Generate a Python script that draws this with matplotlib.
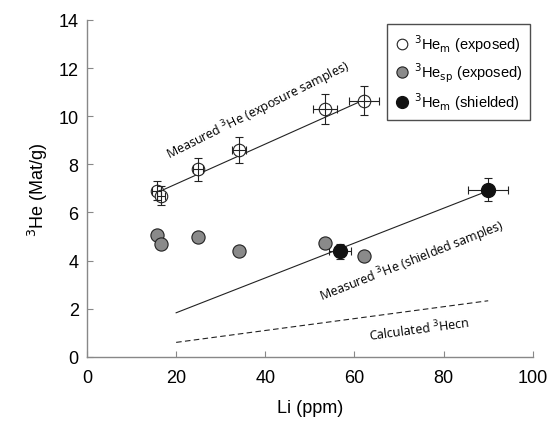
import matplotlib.pyplot as plt

plt.rcParams['font.family'] = ['Liberation Sans', 'DejaVu Sans']

# measured 3He, exposed samples
li_exp = [15.6, 16.7, 24.9, 34.1, 53.3, 62.1]
he_exp = [6.9, 6.7, 7.8, 8.6, 10.3, 10.65]
he_exp_err = [0.4, 0.4, 0.48, 0.53, 0.62, 0.62]
li_exp_err = [1.0, 0.9, 1.2, 1.6, 2.7, 3.3]

# spallation 3He, exposed samples
li_sp = [15.6, 16.7, 24.9, 34.1, 53.3, 62.1]
he_sp = [5.05, 4.7, 5.0, 4.38, 4.75, 4.2]

# measured 3He, shielded samples
li_sh = [56.8, 89.9]
he_sh = [4.38, 6.95]
li_sh_err = [2.5, 4.5]
he_sh_err = [0.3, 0.48]

# fitted lines
fit_exp_x = [16.0, 63.0]
fit_exp_y = [6.85, 10.75]
fit_sh_x = [20.0, 90.0]
fit_sh_y = [1.83, 6.9]
calc_x = [20.0, 90.0]
calc_y = [0.6, 2.33]

fig = plt.figure(figsize=(5.47, 4.27), dpi=100)
ax = fig.add_axes([0.159, 0.162, 0.815, 0.789])

ax.plot(fit_exp_x, fit_exp_y, color='#222222', lw=0.8, zorder=2)
ax.plot(fit_sh_x, fit_sh_y, color='#222222', lw=0.8, zorder=2)
ax.plot(calc_x, calc_y, color='#222222', lw=0.8, ls=(0, (5, 3)), zorder=2)

ax.plot(li_exp, he_exp, 'o', ms=9, mfc='white', mec='#222222', mew=0.8, zorder=3,
        label=r'$^{3}$He$_{\rm m}$ (exposed)')
ax.errorbar(li_exp, he_exp, yerr=he_exp_err, xerr=li_exp_err, fmt='none',
            ecolor='#222222', elinewidth=0.8, capsize=3, capthick=0.8, zorder=4)
ax.plot(li_sp, he_sp, 'o', ms=9.5, mfc='#8a8a8a', mec='#222222', mew=0.8, zorder=3,
        label=r'$^{3}$He$_{\rm sp}$ (exposed)')
ax.errorbar(li_sh, he_sh, yerr=he_sh_err, xerr=li_sh_err, fmt='none',
            ecolor='#222222', elinewidth=0.8, capsize=3, capthick=0.8, zorder=2.5)
ax.plot(li_sh, he_sh, 'o', ms=10, mfc='#111111', mec='#111111', zorder=3,
        label=r'$^{3}$He$_{\rm m}$ (shielded)')

ann = ['Open Sans', 'DejaVu Sans']
ax.text(38.3, 10.25, r'Measured $^{3}$He (exposure samples)', rotation=26.5,
        ha='center', va='center', fontsize=9, family=ann)
ax.text(73.0, 4.0, r'Measured $^{3}$He (shielded samples)', rotation=21.5,
        ha='center', va='center', fontsize=9, family=ann)
ax.text(74.6, 1.17, r'Calculated $^{3}$Hecn', rotation=7.6,
        ha='center', va='center', fontsize=9, family=ann)

ax.set_xlim(0, 100)
ax.set_ylim(0, 14)
ax.set_xticks([0, 20, 40, 60, 80, 100])
ax.set_yticks([0, 2, 4, 6, 8, 10, 12, 14])
for s in ['top', 'right']:
    ax.spines[s].set_visible(False)
for s in ['left', 'bottom']:
    ax.spines[s].set_color('#888888')
    ax.spines[s].set_linewidth(1.0)
ax.tick_params(direction='in', length=4, color='#888888', labelsize=13)
ax.tick_params(axis='x', pad=9)
ax.tick_params(axis='y', pad=6)
ax.set_xlabel('Li (ppm)', fontsize=13, labelpad=9)
ax.set_ylabel(r'$^{3}$He (Mat/g)', fontsize=13, labelpad=6)

leg = ax.legend(loc='upper right', bbox_to_anchor=(1.011, 1.009), fontsize=10.5,
                frameon=True, fancybox=False, edgecolor='#222222', handletextpad=0.3,
                borderpad=0.55, handlelength=1.0, labelspacing=0.45, markerscale=0.85)
leg.get_frame().set_linewidth(1.0)

plt.savefig('out.png', dpi=100)
